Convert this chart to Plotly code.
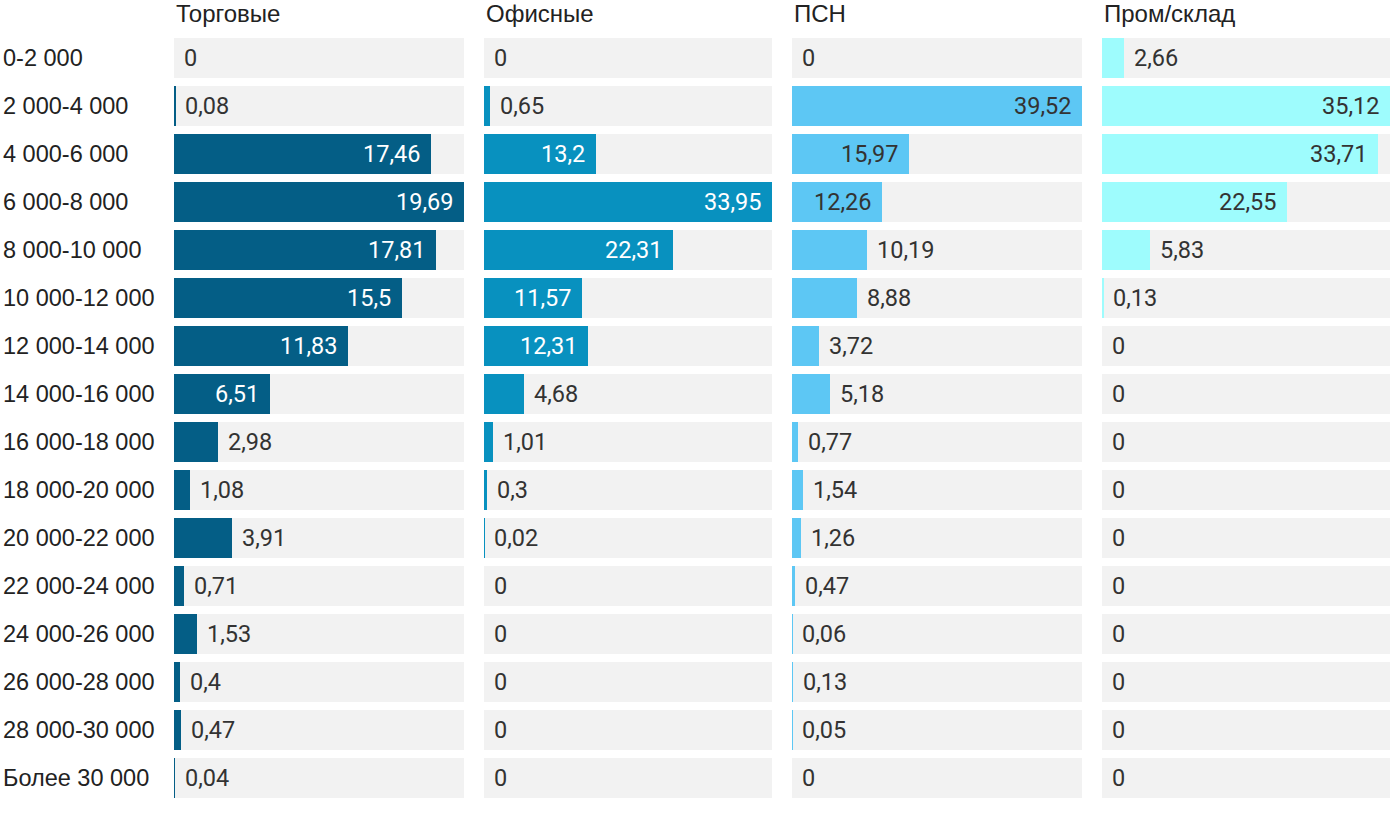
import plotly.graph_objects as go

categories = ["0-2 000", "2 000-4 000", "4 000-6 000", "6 000-8 000", "8 000-10 000",
              "10 000-12 000", "12 000-14 000", "14 000-16 000", "16 000-18 000",
              "18 000-20 000", "20 000-22 000", "22 000-24 000", "24 000-26 000",
              "26 000-28 000", "28 000-30 000", "Более 30 000"]
panel_titles = ["Торговые", "Офисные", "ПСН", "Пром/склад"]
trade = [0, 0.08, 17.46, 19.69, 17.81, 15.5, 11.83, 6.51, 2.98, 1.08, 3.91, 0.71, 1.53, 0.4, 0.47, 0.04]
office = [0, 0.65, 13.2, 33.95, 22.31, 11.57, 12.31, 4.68, 1.01, 0.3, 0.02, 0, 0, 0, 0, 0]
psn = [0, 39.52, 15.97, 12.26, 10.19, 8.88, 3.72, 5.18, 0.77, 1.54, 1.26, 0.47, 0.06, 0.13, 0.05, 0]
prom = [2.66, 35.12, 33.71, 22.55, 5.83, 0.13, 0, 0, 0, 0, 0, 0, 0, 0, 0, 0]

series = [trade, office, psn, prom]
colors = ["#045e86", "#0891bf", "#5dc7f4", "#9efcfd"]
inside_text_colors = ["#ffffff", "#ffffff", "#333333", "#333333"]
outside_text_color = "#333333"

W, H = 1400, 814
panel_px = [(174, 464), (484, 772), (792, 1082), (1102, 1390)]
y_top_px, y_bot_px = 34, 802
VAL_FONT = "Roboto"
LBL_FONT = "Liberation Sans, Arial"
FS_VAL = 23.5
FS_CAT = 23.5
FS_HEAD = 24

fig = go.Figure()
annotations = []

def fmt(v):
    s = ("%.2f" % v).rstrip("0").rstrip(".")
    return s.replace(".", ",")

for i, (vals, col) in enumerate(zip(series, colors)):
    xa = "x" if i == 0 else f"x{i+1}"
    xkey = "xaxis" if i == 0 else f"xaxis{i+1}"
    vmax = max(vals)
    fig.add_trace(go.Bar(y=categories, x=[vmax] * len(categories), orientation="h",
                         marker=dict(color="#f2f2f2", line=dict(width=0)),
                         width=40 / 48, xaxis=xa, yaxis="y", hoverinfo="skip",
                         showlegend=False))
    fig.add_trace(go.Bar(y=categories, x=vals, orientation="h",
                         marker=dict(color=col, line=dict(width=0)),
                         width=40 / 48, xaxis=xa, yaxis="y", showlegend=False))
    x0, x1 = panel_px[i]
    fig.layout[xkey] = dict(domain=[x0 / W, x1 / W], range=[0, vmax], visible=False,
                            fixedrange=True, anchor="y")
    pw = x1 - x0
    for c, v in zip(categories, vals):
        bar_px = v / vmax * pw
        inside = bar_px > 82
        annotations.append(dict(
            x=v, y=c, xref=xa, yref="y", text=fmt(v), showarrow=False,
            xanchor="right" if inside else "left",
            xshift=-9 if inside else 8,
            font=dict(family=VAL_FONT, size=FS_VAL,
                      color=inside_text_colors[i] if inside else outside_text_color)))
    annotations.append(dict(
        x=0, y=1 - 14 / H, xref=f"{xa} domain", yref="paper", text=panel_titles[i],
        showarrow=False, xanchor="left", yanchor="middle", xshift=0,
        font=dict(family=LBL_FONT, size=FS_HEAD, color="#222222")))

for c in categories:
    annotations.append(dict(x=0, y=c, xref="paper", yref="y", text=c, showarrow=False,
                            xanchor="left", xshift=1,
                            font=dict(family=LBL_FONT, size=FS_CAT, color="#222222")))

fig.update_layout(
    width=W, height=H, margin=dict(l=0, r=0, t=0, b=0),
    paper_bgcolor="white", plot_bgcolor="white", barmode="overlay", bargap=0,
    yaxis=dict(domain=[1 - y_bot_px / H, 1 - y_top_px / H], autorange="reversed",
               visible=False, fixedrange=True),
    annotations=annotations,
)

fig.write_html("out.html", config={"displayModeBar": False},
               post_script="document.body.style.margin='0';document.body.style.overflow='hidden';")
